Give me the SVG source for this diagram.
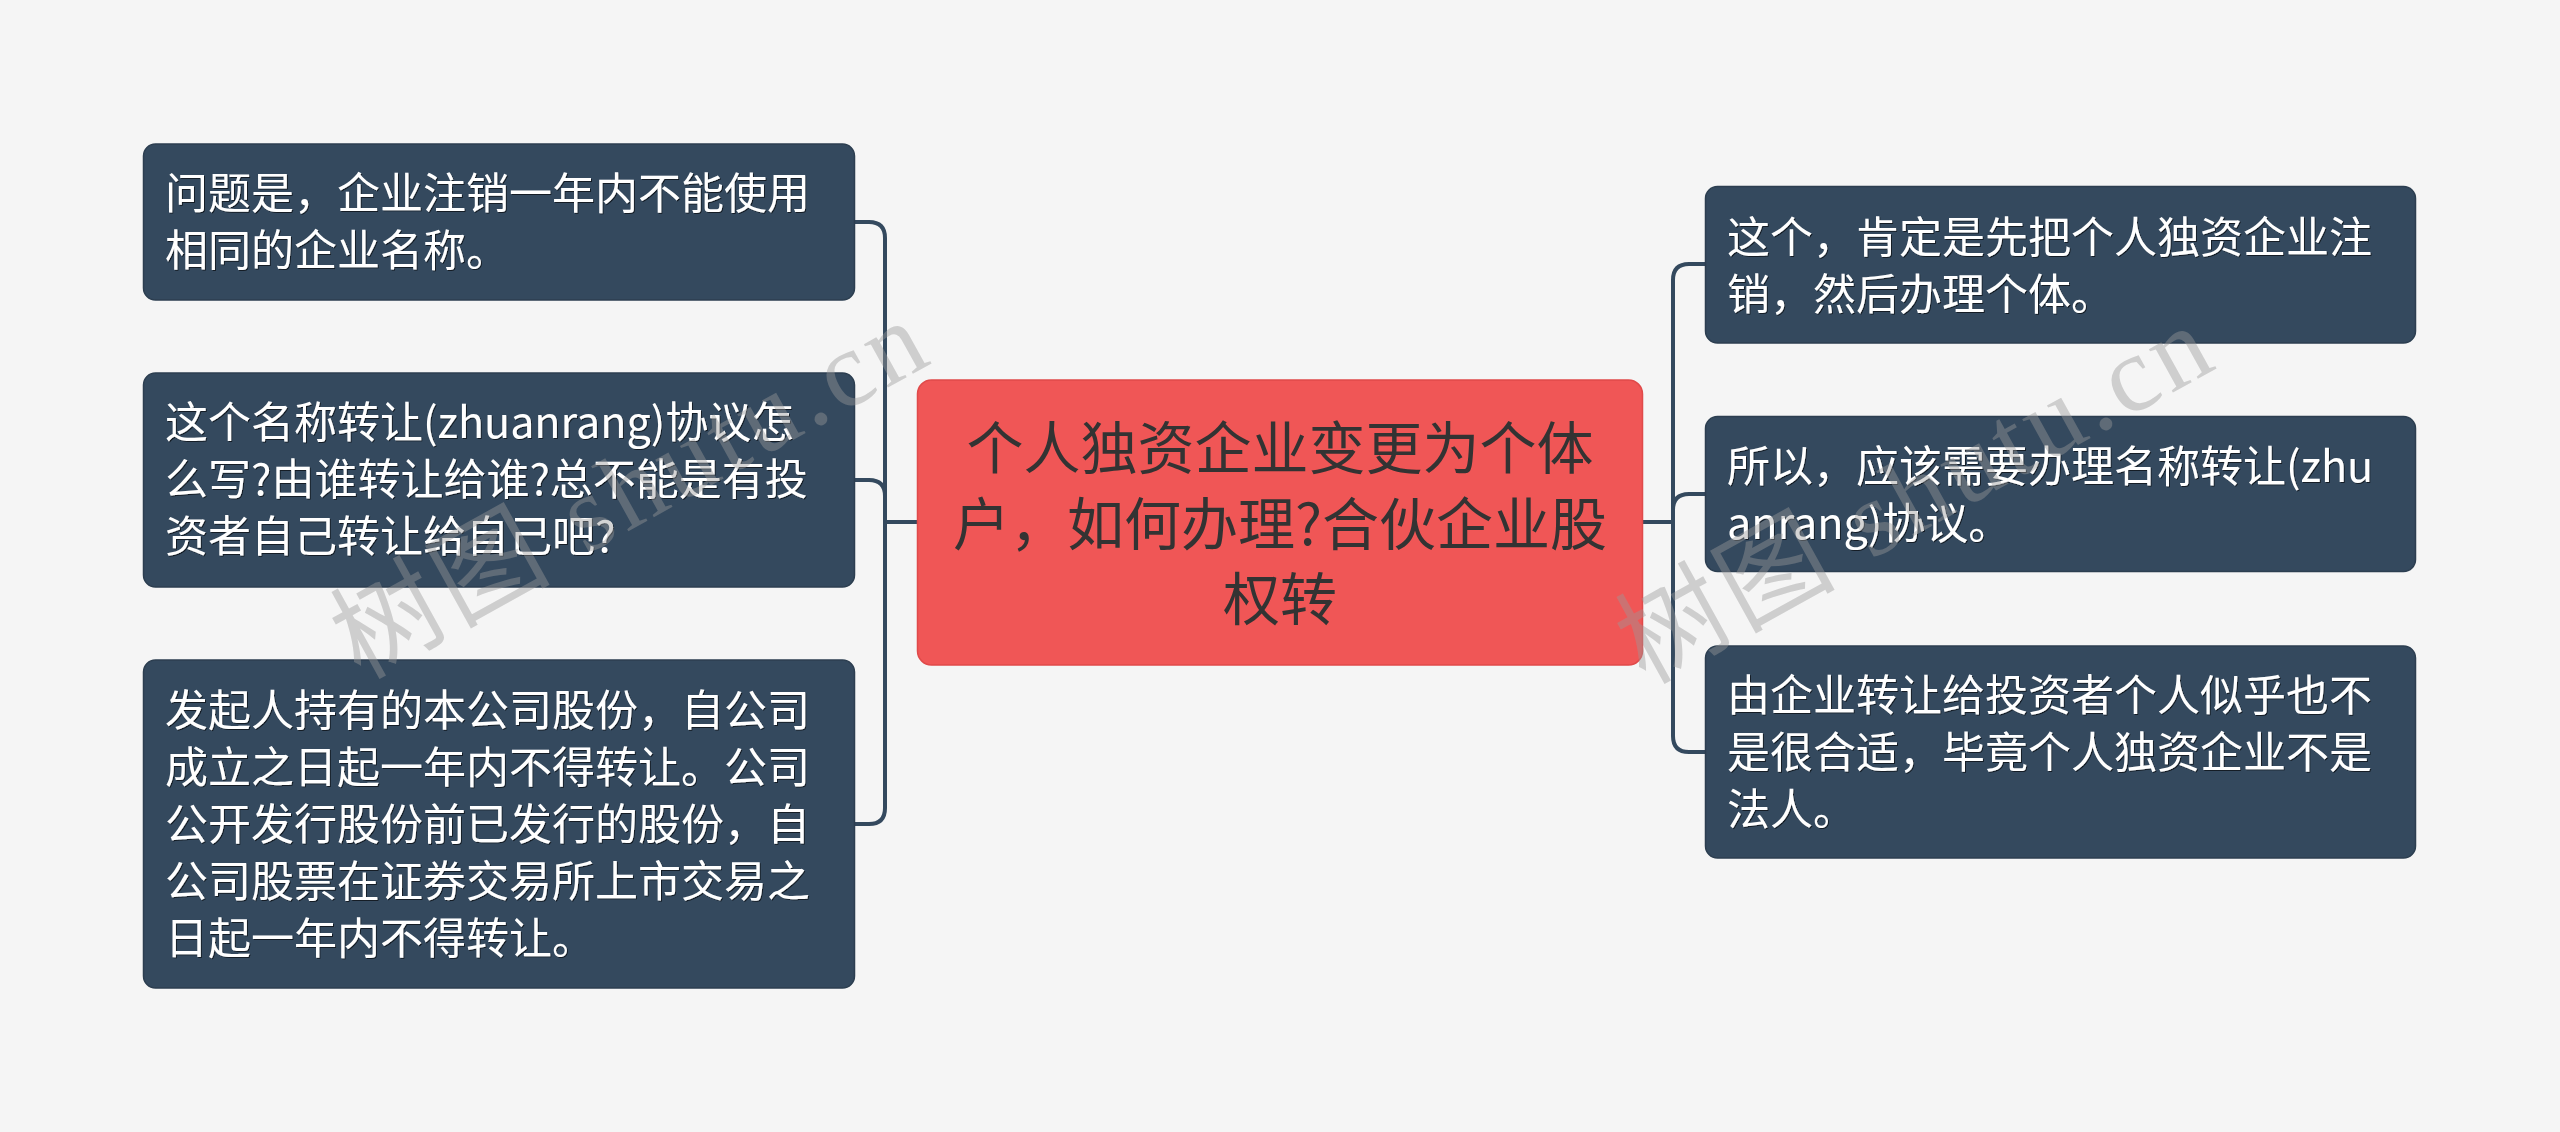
<svg xmlns="http://www.w3.org/2000/svg" width="2560" height="1132" viewBox="0 0 2560 1132">
<defs>
<style>
.bg{fill:#f5f5f5}
.sub{fill:#34495e;stroke:#2c3e50;stroke-width:1.5}
.root{fill:#f05656;stroke:#e04a4a;stroke-width:1.5}
.t{font-family:"Noto Sans CJK SC","Noto Sans",sans-serif;font-size:43px;fill:#ffffff}
.rt{font-family:"Noto Sans CJK SC","Noto Sans",sans-serif;font-size:57px;fill:#333333;text-anchor:middle}
.conn{fill:none;stroke:#34495e;stroke-width:4}
.wm{font-family:"Liberation Serif","Noto Sans CJK SC",serif;font-size:108px;fill:#9a9a9a;opacity:0.42}
</style>
<filter id="sh" x="-5%" y="-5%" width="110%" height="110%">
<feDropShadow dx="1" dy="1" stdDeviation="0.6" flood-color="#000" flood-opacity="0.6"/>
</filter>
</defs>
<rect class="bg" x="0" y="0" width="2560" height="1132"/>
<g id="connectors">
<path class="conn" d="M854.5 222 H869 Q885 222 885 238 V808 Q885 824 869 824 H854.5"/>
<path class="conn" d="M854.5 480 H869 Q885 480 885 496"/>
<path class="conn" d="M885 522 H917.5"/>
<path class="conn" d="M1705.5 264 H1689 Q1673 264 1673 280 V736 Q1673 752 1689 752 H1705.5"/>
<path class="conn" d="M1705.5 494 H1689 Q1673 494 1673 510"/>
<path class="conn" d="M1642.5 522 H1673"/>
</g>
<g id="root">
<rect class="root" x="917.5" y="380" width="725" height="285" rx="14"/>
<text class="rt"><tspan x="1280" y="469">个人独资企业变更为个体</tspan><tspan x="1280" y="545">户，如何办理?合伙企业股</tspan><tspan x="1280" y="620">权转</tspan></text>
</g>
<g id="left1">
<rect class="sub" x="143.5" y="144" width="711" height="156" rx="12"/>
<text class="t" filter="url(#sh)"><tspan x="165" y="209">问题是，企业注销一年内不能使用</tspan><tspan x="165" y="266">相同的企业名称。</tspan></text>
</g>
<g id="left2">
<rect class="sub" x="143.5" y="373" width="711" height="214" rx="12"/>
<text class="t" filter="url(#sh)"><tspan x="165" y="438">这个名称转让(zhuanrang)协议怎</tspan><tspan x="165" y="495">么写?由谁转让给谁?总不能是有投</tspan><tspan x="165" y="552">资者自己转让给自己吧?</tspan></text>
</g>
<g id="left3">
<rect class="sub" x="143.5" y="660" width="711" height="328" rx="12"/>
<text class="t" filter="url(#sh)"><tspan x="165" y="726">发起人持有的本公司股份，自公司</tspan><tspan x="165" y="783">成立之日起一年内不得转让。公司</tspan><tspan x="165" y="840">公开发行股份前已发行的股份，自</tspan><tspan x="165" y="897">公司股票在证券交易所上市交易之</tspan><tspan x="165" y="954">日起一年内不得转让。</tspan></text>
</g>
<g id="right1">
<rect class="sub" x="1705.5" y="186.5" width="710" height="156.5" rx="12"/>
<text class="t" filter="url(#sh)"><tspan x="1727" y="253">这个，肯定是先把个人独资企业注</tspan><tspan x="1727" y="310">销，然后办理个体。</tspan></text>
</g>
<g id="right2">
<rect class="sub" x="1705.5" y="416.5" width="710" height="155" rx="12"/>
<text class="t" filter="url(#sh)"><tspan x="1727" y="482">所以，应该需要办理名称转让(zhu</tspan><tspan x="1727" y="539">anrang)协议。</tspan></text>
</g>
<g id="right3">
<rect class="sub" x="1705.5" y="646" width="710" height="212" rx="12"/>
<text class="t" filter="url(#sh)"><tspan x="1727" y="711">由企业转让给投资者个人似乎也不</tspan><tspan x="1727" y="768">是很合适，毕竟个人独资企业不是</tspan><tspan x="1727" y="825">法人。</tspan></text>
</g>
<g id="watermarks">
<text class="wm" transform="translate(360,680) rotate(-29)" x="0" y="0" textLength="655" lengthAdjust="spacing">树图 shutu.cn</text>
<text class="wm" transform="translate(1645,685) rotate(-29)" x="0" y="0" textLength="655" lengthAdjust="spacing">树图 shutu.cn</text>
</g>
</svg>
